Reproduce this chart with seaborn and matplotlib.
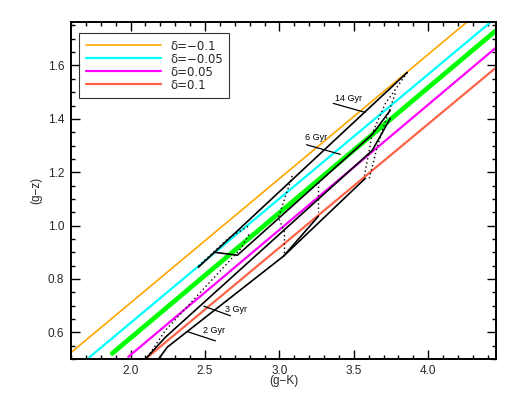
import matplotlib
matplotlib.use("Agg")
import matplotlib.pyplot as plt
from matplotlib.ticker import MultipleLocator
import seaborn as sns
import pandas as pd

# ---------------- data ----------------
# straight reference relations for different delta values
orange_x = [1.60, 4.26];   orange_y = [0.524, 1.763]   # delta = -0.1
cyan_x = [1.71, 4.42];     cyan_y = [0.500, 1.763]     # delta = -0.05
green_x = [1.877, 4.455];  green_y = [0.521, 1.731]    # delta = 0
magenta_x = [1.985, 4.455]; magenta_y = [0.508, 1.667] # delta = 0.05
salmon_x = [2.115, 4.455]; salmon_y = [0.507, 1.592]   # delta = 0.1
legend_labels = ["δ=−0.1", "δ=−0.05", "δ=0.05", "δ=0.1"]

# model isochrones (solid)
iso14_x = [2.456, 3.859]; iso14_y = [0.844, 1.574]
iso6_x = [2.563, 2.718, 3.624, 3.745]; iso6_y = [0.900, 0.889, 1.342, 1.432]
iso3_x = [2.100, 2.235, 3.624, 3.745]; iso3_y = [0.500, 0.582, 1.282, 1.402]
iso2_x = [2.188, 2.248, 3.027, 3.577]; iso2_y = [0.500, 0.545, 0.885, 1.177]
isov_x = [3.027, 3.262]; isov_y = [0.885, 1.035]

# fixed-metallicity tracks (dotted)
trA_x = [2.114, 2.235, 2.738, 2.805]; trA_y = [0.507, 0.608, 0.912, 0.975]
trB_x = [2.456, 2.658, 2.792]; trB_y = [0.848, 0.953, 0.998]
trD_x = [3.034, 3.034, 2.993, 3.054, 3.087]; trD_y = [0.897, 0.975, 1.031, 1.132, 1.188]
trG_x = [3.262, 3.262]; trG_y = [1.162, 1.050]
trE_x = [3.859, 3.765, 3.712, 3.624, 3.591, 3.571]; trE_y = [1.574, 1.499, 1.458, 1.346, 1.245, 1.188]
trF_x = [3.778, 3.698, 3.651, 3.604]; trF_y = [1.495, 1.368, 1.282, 1.177]

age_labels = ["14 Gyr", "6 Gyr", "3 Gyr", "2 Gyr"]

# ---------------- figure ----------------
sns.set_theme(style="white")
plt.rcParams["font.family"] = ["Liberation Sans", "DejaVu Sans"]
plt.rcParams["axes.unicode_minus"] = True

fig = plt.figure(figsize=(5.18, 4.05), dpi=100)
ax = fig.add_axes([71 / 518, 46 / 405, 425 / 518, 337 / 405])


def seg(x, y, **kw):
    df = pd.DataFrame({"x": x, "y": y})
    sns.lineplot(data=df, x="x", y="y", sort=False, estimator=None, ax=ax, **kw)


seg(orange_x, orange_y, color="#FFA500", lw=1.2, label=legend_labels[0])
seg(cyan_x, cyan_y, color="#00FFFF", lw=1.6, label=legend_labels[1])
seg(magenta_x, magenta_y, color="#FF00FF", lw=1.6, label=legend_labels[2])
seg(salmon_x, salmon_y, color="#FF6347", lw=1.6, label=legend_labels[3])
seg(green_x, green_y, color="#00FF00", lw=3.4)

for xs, ys in [(iso14_x, iso14_y), (iso6_x, iso6_y), (iso3_x, iso3_y),
               (iso2_x, iso2_y), (isov_x, isov_y)]:
    seg(xs, ys, color="black", lw=1.2)
for xs, ys in [(trA_x, trA_y), (trB_x, trB_y), (trD_x, trD_y),
               (trG_x, trG_y), (trE_x, trE_y), (trF_x, trF_y)]:
    seg(xs, ys, color="black", lw=1.0, linestyle=(0, (1, 2)))

# age annotations
ann = [((3.463, 1.478), (3.362, 1.458), (3.577, 1.424)),
       ((3.246, 1.329), (3.182, 1.303), (3.409, 1.267)),
       ((2.711, 0.685), (2.671, 0.662), (2.492, 0.698)),
       ((2.560, 0.607), (2.570, 0.568), (2.385, 0.602))]
for lab, (tp, p0, p1) in zip(age_labels, ann):
    ax.text(tp[0], tp[1], lab, fontsize=6.5, ha="center", va="center", color="black")
    ax.plot([p0[0], p1[0]], [p0[1], p1[1]], color="black", lw=0.9)

ax.set_xlim(1.6, 4.455)
ax.set_ylim(0.5, 1.763)
ax.xaxis.set_minor_locator(MultipleLocator(0.1))
ax.yaxis.set_minor_locator(MultipleLocator(0.05))
ax.set_xticks([2.0, 2.5, 3.0, 3.5, 4.0])
ax.set_yticks([0.6, 0.8, 1.0, 1.2, 1.4, 1.6])
ax.tick_params(which="both", direction="in", top=True, right=True,
               bottom=True, left=True, color="black", width=1.0)
ax.tick_params(which="major", length=6.5, labelsize=8.5)
ax.tick_params(axis="x", which="major", pad=4)
ax.tick_params(axis="y", which="major", pad=5)
ax.tick_params(which="minor", length=3.2)
for s in ax.spines.values():
    s.set_color("black")
    s.set_linewidth(1.4)

ax.set_xlabel("(g−K)", fontsize=8.5, labelpad=-1)
ax.set_ylabel("(g−z)", fontsize=8.5, labelpad=4)

leg = ax.legend(loc="upper left", bbox_to_anchor=(0.019, 0.967), borderaxespad=0,
                prop={"family": "DejaVu Sans", "size": 8.5},
                handlelength=6.4, labelspacing=0.0, fancybox=False,
                frameon=True, edgecolor="black", borderpad=0.55, handletextpad=0.75)
leg.get_frame().set_linewidth(0.8)

fig.savefig("out.png", dpi=100)
